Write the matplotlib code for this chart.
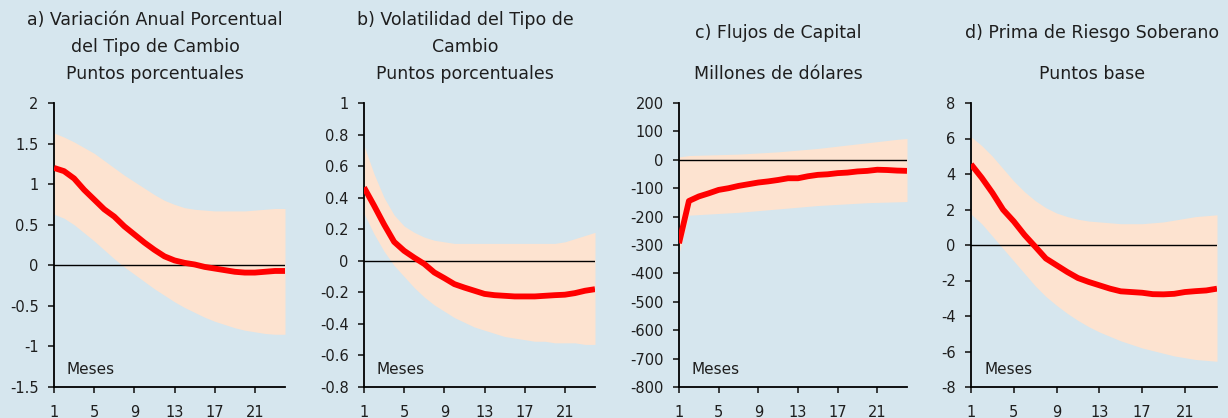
import matplotlib.pyplot as plt
from matplotlib.ticker import FormatStrFormatter

months = list(range(1, 25))
xticks = [1, 5, 9, 13, 17, 21]

# a) Variacion anual porcentual del tipo de cambio
line_a = [1.20, 1.16, 1.07, 0.93, 0.81, 0.69, 0.60, 0.48, 0.38, 0.28, 0.19, 0.11,
          0.06, 0.03, 0.01, -0.02, -0.04, -0.06, -0.08, -0.09, -0.09, -0.08, -0.07, -0.07]
upper_a = [1.63, 1.58, 1.52, 1.45, 1.38, 1.29, 1.20, 1.11, 1.03, 0.95, 0.87, 0.80,
           0.75, 0.71, 0.69, 0.68, 0.67, 0.67, 0.67, 0.67, 0.68, 0.69, 0.70, 0.70]
lower_a = [0.63, 0.58, 0.50, 0.40, 0.30, 0.19, 0.08, -0.02, -0.11, -0.20, -0.29, -0.37,
           -0.45, -0.52, -0.58, -0.64, -0.69, -0.73, -0.77, -0.80, -0.82, -0.84, -0.85, -0.85]

# b) Volatilidad del tipo de cambio
line_b = [0.465, 0.35, 0.23, 0.12, 0.063, 0.02, -0.02, -0.074, -0.11, -0.148, -0.17, -0.19,
          -0.21, -0.218, -0.222, -0.226, -0.226, -0.226, -0.222, -0.218, -0.215, -0.205, -0.19, -0.18]
upper_b = [0.73, 0.55, 0.40, 0.29, 0.22, 0.18, 0.15, 0.13, 0.12, 0.11, 0.11, 0.11,
           0.11, 0.11, 0.11, 0.11, 0.11, 0.11, 0.11, 0.11, 0.12, 0.14, 0.16, 0.18]
lower_b = [0.30, 0.17, 0.06, -0.03, -0.10, -0.17, -0.23, -0.28, -0.32, -0.36, -0.39, -0.42,
           -0.44, -0.46, -0.48, -0.49, -0.50, -0.51, -0.51, -0.52, -0.52, -0.52, -0.53, -0.53]

# c) Flujos de capital
line_c = [-294, -145, -129, -118, -106, -100, -92, -86, -80, -76, -71, -65,
          -65, -58, -53, -51, -47, -45, -41, -39, -35, -36, -38, -39]
upper_c = [10, 15, 16, 17, 18, 19, 20, 22, 24, 26, 28, 31,
           34, 37, 40, 44, 48, 52, 56, 60, 64, 68, 72, 75]
lower_c = [-330, -195, -193, -191, -189, -187, -185, -182, -179, -176, -173, -170,
           -167, -164, -161, -159, -157, -155, -153, -151, -150, -149, -148, -147]

# d) Prima de riesgo soberano
line_d = [4.55, 3.79, 2.94, 1.99, 1.33, 0.57, -0.09, -0.76, -1.14, -1.52, -1.86, -2.08,
          -2.27, -2.46, -2.61, -2.65, -2.69, -2.77, -2.78, -2.75, -2.65, -2.60, -2.56, -2.46]
upper_d = [6.1, 5.6, 5.0, 4.3, 3.6, 3.0, 2.5, 2.1, 1.8, 1.6, 1.45, 1.35,
           1.3, 1.25, 1.2, 1.2, 1.2, 1.25, 1.3, 1.4, 1.5, 1.6, 1.65, 1.7]
lower_d = [1.74, 1.2, 0.5, -0.2, -0.9, -1.6, -2.3, -2.9, -3.4, -3.85, -4.25, -4.6,
           -4.9, -5.15, -5.4, -5.6, -5.8, -5.95, -6.1, -6.25, -6.35, -6.45, -6.5, -6.55]

titles = [
    ["a) Variación Anual Porcentual", "del Tipo de Cambio", "Puntos porcentuales"],
    ["b) Volatilidad del Tipo de", "Cambio", "Puntos porcentuales"],
    ["c) Flujos de Capital", "Millones de dólares"],
    ["d) Prima de Riesgo Soberano", "Puntos base"],
]

panels = [
    (line_a, upper_a, lower_a, (-1.5, 2), [-1.5, -1, -0.5, 0, 0.5, 1, 1.5, 2]),
    (line_b, upper_b, lower_b, (-0.8, 1), [-0.8, -0.6, -0.4, -0.2, 0, 0.2, 0.4, 0.6, 0.8, 1]),
    (line_c, upper_c, lower_c, (-800, 200), list(range(-800, 201, 100))),
    (line_d, upper_d, lower_d, (-8, 8), list(range(-8, 9, 2))),
]

BG = "#d6e6ee"
BAND = "#fde3d0"
TXT = "#1e1e1e"
plt.rcParams["font.family"] = ["DejaVu Sans"]
plt.rcParams["axes.unicode_minus"] = False

fig = plt.figure(figsize=(12.28, 4.18), dpi=100, facecolor=BG)

# axes boxes in pixels: left, right
boxes = [(54, 285), (364, 595), (679, 907), (971, 1217)]
title_x = [155, 465, 778, 1092]
W, H = 1228, 418
top, bottom = 103, 387

for i, (line, up, lo, ylim, yt) in enumerate(panels):
    l, r = boxes[i]
    ax = fig.add_axes([l / W, 1 - bottom / H, (r - l) / W, (bottom - top) / H])
    ax.set_facecolor(BG)
    ax.fill_between(months, lo, up, color=BAND, lw=0, zorder=1)
    ax.axhline(0, color="black", lw=1.0, zorder=2)
    ax.plot(months, line, color="#ff0000", lw=4.2, solid_capstyle="butt", zorder=3)
    ax.set_xlim(1, 24)
    ax.set_ylim(*ylim)
    ax.set_xticks(xticks)
    ax.set_yticks(yt)
    ax.yaxis.set_major_formatter(FormatStrFormatter("%g"))
    for s in ["top", "right"]:
        ax.spines[s].set_visible(False)
    for s in ["left", "bottom"]:
        ax.spines[s].set_linewidth(1.3)
    ax.tick_params(direction="out", length=4, width=1.2, labelsize=10.5,
                   colors=TXT, pad=7)
    ax.tick_params(axis="x", pad=9)
    ax.text(0.055, 0.06, "Meses", transform=ax.transAxes, fontsize=11,
            color=TXT, va="center", ha="left")

    lines = titles[i]
    ys = [20, 47, 74] if len(lines) == 3 else [33, 74]
    for t, y in zip(lines, ys):
        fig.text(title_x[i] / W, 1 - y / H, t, ha="center", va="center",
                 fontsize=12.5, color=TXT)

fig.savefig("out.png", dpi=100, facecolor=BG)
